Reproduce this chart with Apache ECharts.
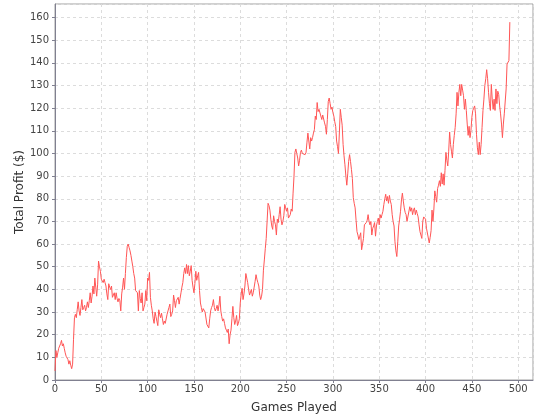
<!DOCTYPE html>
<html>
<head>
	<meta charset="utf-8">
	<title>Total Profit</title>
	<script src="https://cdn.jsdelivr.net/npm/echarts@6/dist/echarts.min.js"></script>
	<style>
		html, body { margin: 0; padding: 0; background: #fff; }
		#main { width: 540px; height: 420px; }
	</style>
</head>
<body>
<div id="main"></div>
<script>
// profit after each game, index = game number
var profit = [
	4, 13, 10, 12, 14, 15, 16, 17.5, 15, 16,
	14, 12, 10.5, 11, 9, 7, 8.5, 6.5, 5, 7,
	18, 27.5, 29, 27.5, 31, 34.5, 30.5, 28.5, 32, 35.5,
	31, 32, 33, 30.5, 32, 34.5, 32, 35, 38.5, 34,
	37, 41.5, 38, 45, 41, 37, 42, 52.5, 50, 48,
	44.5, 44, 43, 44.5, 43, 41.5, 38, 35.5, 42.5, 41,
	40, 41.5, 36.5, 37, 38.5, 35.5, 38.5, 36, 34.5, 36,
	35, 30.5, 38, 41, 45, 40, 47, 54, 59, 60,
	58.5, 57, 55, 52.5, 50, 47, 45, 39.5, 39, 38.5,
	30.5, 39.5, 36, 34, 38.5, 30.5, 32, 33.5, 39.5, 35,
	45, 44, 47.5, 36.5, 33, 30.5, 27, 25, 30, 28,
	26, 24, 31, 29, 27.5, 29.5, 27, 24.5, 26, 25,
	24.5, 29, 30.5, 32, 33.5, 28, 29, 30.5, 37.5, 35,
	32, 35, 35.5, 36.5, 33.5, 36, 38.5, 41, 43, 47,
	49.5, 47, 51, 47, 50.5, 46, 48, 50.5, 44, 41,
	38.5, 42.5, 48, 44, 46, 47.5, 39.5, 34, 32, 30,
	31.5, 31, 30, 30.5, 24.5, 24, 23, 27, 30.5, 32,
	33, 35.5, 32, 30.5, 31.5, 33, 30.5, 33, 37, 30.5,
	28, 26, 27, 25, 23, 22, 21, 22.5, 16, 20,
	22, 27, 32.5, 27.5, 24.5, 26, 28.5, 24, 25, 27,
	34, 38, 40.5, 35.5, 38, 41.5, 47, 45, 43, 40,
	37.5, 38, 40, 37, 38.5, 41, 43.5, 46.5, 44.5, 43,
	41.5, 37.5, 35.5, 37, 40, 48.5, 53, 58, 62.5, 62,
	78, 77, 75, 71, 68, 66.5, 72.5, 70, 68.5, 64,
	71, 69.5, 73, 76.5, 71, 68.5, 70, 72.5, 77.5, 76,
	74.5, 76, 71.5, 71, 73, 75.5, 74.5, 82.5, 90, 100.5,
	102, 100, 98, 94.5, 97, 100.5, 101.5, 100, 99.5, 100,
	99.5, 100.5, 105, 109, 108.5, 102, 107, 105.5, 107, 109,
	110.5, 116.5, 115, 122.5, 118.5, 119.5, 119, 120, 115, 117,
	116.5, 113.5, 112, 108.5, 115, 123, 124.5, 122, 119.5, 120.5,
	118, 116.5, 114, 112, 105.5, 103, 100, 109.5, 119.5, 116,
	112.5, 104, 99, 95, 90, 86, 91, 96.5, 99.5, 96.5,
	93, 89, 80.5, 78, 76, 70.5, 65.5, 64, 62, 63.5,
	65, 57.5, 60, 62.5, 68.5, 68, 69.5, 70.5, 73, 70,
	68.5, 70, 64, 67, 68, 69.5, 63.5, 68, 70, 71.5,
	68.5, 73, 71.5, 73, 74.5, 77.5, 80, 82, 79, 81,
	78, 81.5, 79, 77.5, 73, 70, 68, 61, 57, 54.5,
	61, 68, 71, 74.5, 79.5, 82.5, 79, 76, 74, 73,
	70, 70, 69.5, 76.5, 74.5, 76, 73, 75, 76, 73,
	75, 73.5, 72, 68.5, 65.5, 64, 62.5, 70, 72, 72.5,
	71, 67, 67.5, 66.5, 60.5, 63, 66, 75, 70, 75.5,
	83.5, 81, 78.5, 84.5, 86, 88, 85.5, 91.5, 86.5, 91,
	86, 92.5, 100.5, 97, 94.5, 101, 109.5, 104, 101, 98,
	104, 108, 111.5, 117.5, 127, 121, 127, 130.5, 125.5, 130.5,
	128, 125.5, 119.5, 124, 119, 113, 108, 112, 107, 110,
	116, 119, 120, 121, 117.5, 108.5, 102.5, 99.5, 105, 99.5,
	104, 111.5, 119, 124, 130, 133, 137, 133, 127, 122,
	119, 130.5, 124, 119.5, 124, 119, 128.5, 122, 127.5, 126,
	121, 117.5, 113, 107, 113, 117.5, 118, 128.5, 139.5, 140,
	141, 158
];

var xTitle = 'Games Played';
var yTitle = 'Total Profit ($)';

var points = profit.map(function (v, i) { return [i, v]; });

var myChart = echarts.init(document.getElementById('main'), null, { renderer: 'canvas' });

var labelStyle = {
	color: '#444',
	fontFamily: 'DejaVu Sans',
	fontSize: 10
};

var gridLine = { show: true, lineStyle: { color: '#dcdcdc', type: [3, 3], width: 1 } };

var option = {
	backgroundColor: '#fff',
	animation: false,
	grid: {
		left: 55,
		right: 7,
		top: 4,
		bottom: 40,
		show: true,
		backgroundColor: '#fff',
		borderColor: '#a0a0a0',
		borderWidth: 1
	},
	xAxis: {
		type: 'value',
		min: 0,
		max: 516,
		interval: 50,
		name: xTitle,
		nameLocation: 'middle',
		nameGap: 22,
		nameMoveOverlap: false,
		nameTextStyle: { color: '#333', fontFamily: 'DejaVu Sans', fontSize: 12 },
		axisLine: { onZero: false, lineStyle: { color: '#808090', width: 1 } },
		axisTick: { show: true, length: 3, lineStyle: { color: '#808090' } },
		axisLabel: Object.assign({ margin: 4, showMaxLabel: false }, labelStyle),
		splitLine: gridLine
	},
	yAxis: {
		type: 'value',
		min: 0,
		max: 166,
		interval: 10,
		name: yTitle,
		nameLocation: 'middle',
		nameGap: 29,
		nameMoveOverlap: false,
		nameTextStyle: { color: '#333', fontFamily: 'DejaVu Sans', fontSize: 12 },
		axisLine: { show: true, onZero: false, lineStyle: { color: '#808090', width: 1 } },
		axisTick: { show: true, length: 3, lineStyle: { color: '#808090' } },
		axisLabel: Object.assign({ margin: 6, showMaxLabel: false }, labelStyle),
		splitLine: gridLine
	},
	series: [
		{
			name: 'Total Profit',
			type: 'line',
			data: points,
			showSymbol: false,
			symbol: 'none',
			lineStyle: { color: '#ff5555', width: 1 },
			itemStyle: { color: '#ff5555' }
		}
	]
};

myChart.setOption(option);
</script>
</body>
</html>
